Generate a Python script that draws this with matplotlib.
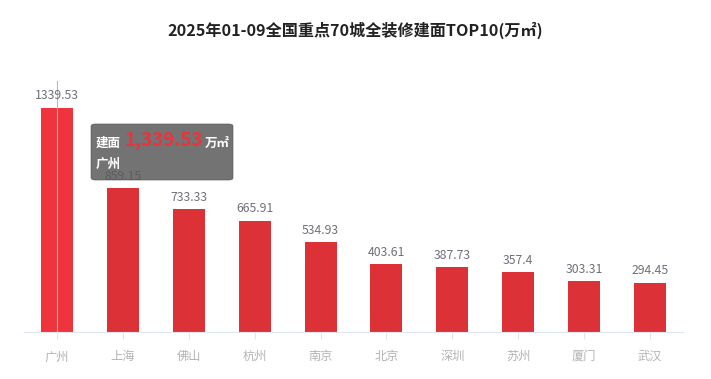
import matplotlib
matplotlib.use("Agg")
import matplotlib.pyplot as plt
from matplotlib.patches import FancyBboxPatch

plt.rcParams['font.family'] = ['Noto Sans CJK SC', 'DejaVu Sans']

cities = ['广州', '上海', '佛山', '杭州', '南京', '北京', '深圳', '苏州', '厦门', '武汉']
values = [1339.53, 859.15, 733.33, 665.91, 534.93, 403.61, 387.73, 357.4, 303.31, 294.45]
labels = ['1339.53', '859.15', '733.33', '665.91', '534.93', '403.61', '387.73', '357.4', '303.31', '294.45']
title = '2025年01-09全国重点70城全装修建面TOP10(万㎡)'

W, H = 711, 379
fig = plt.figure(figsize=(W / 100, H / 100), dpi=100)
ax = fig.add_axes([24 / W, 1 - 332 / H, 659 / W, 251 / H])

x = list(range(len(cities)))
colors = ['#f0343e'] + ['#dc3237'] * (len(cities) - 1)
ax.bar(x, values, width=0.485, color=colors, zorder=2)
for xi, v, lab in zip(x, values, labels):
    ax.annotate(lab, (xi, v), xytext=(0, 4), textcoords='offset points',
                ha='center', va='bottom', fontsize=8.8, color='#6e7079', zorder=12)

ax.set_xlim(-0.5, len(cities) - 0.5)
ax.set_ylim(0, 1500)
ax.set_yticks([])
ax.set_xticks(x)
ax.set_xticklabels(cities, fontsize=8.8, color='#b4b4b4')
ax.tick_params(axis='x', length=5, color='#e0e6f1', pad=8)
for s in ['top', 'right', 'left']:
    ax.spines[s].set_visible(False)
ax.spines['bottom'].set_color('#e0e6f1')

# axis pointer on first category
ax.axvline(0, ymin=0, ymax=1.0, color='#b8b8b8', lw=0.8, zorder=4)

fig.text(0.5, 1 - 30 / H, title, ha='center', va='center', fontsize=11.6,
         fontweight='bold', color='#222222')

# tooltip
def fx(px):
    return px / W
def fy(py):
    return 1 - py / H

box = FancyBboxPatch((fx(91), fy(180)), fx(233) - fx(91), fy(124) - fy(180),
                     boxstyle='round,pad=0,rounding_size=0.006',
                     transform=fig.transFigure, facecolor='#5a5a5a', alpha=0.85,
                     edgecolor='#555555', lw=0.5, zorder=10)
fig.patches.append(box)
fig.text(fx(96), fy(143), '建面', ha='left', va='center', fontsize=9,
         fontweight='bold', color='white', zorder=11)
fig.text(fx(124), fy(141), f'{values[0]:,.2f}', ha='left', va='center', fontsize=13.5,
         fontweight='bold', color='#e8343c', zorder=11)
fig.text(fx(205), fy(143), '万㎡', ha='left', va='center', fontsize=9,
         fontweight='bold', color='white', zorder=11)
fig.text(fx(96), fy(164), cities[0], ha='left', va='center', fontsize=9,
         fontweight='bold', color='white', zorder=11)

fig.savefig('out.png', dpi=100)
